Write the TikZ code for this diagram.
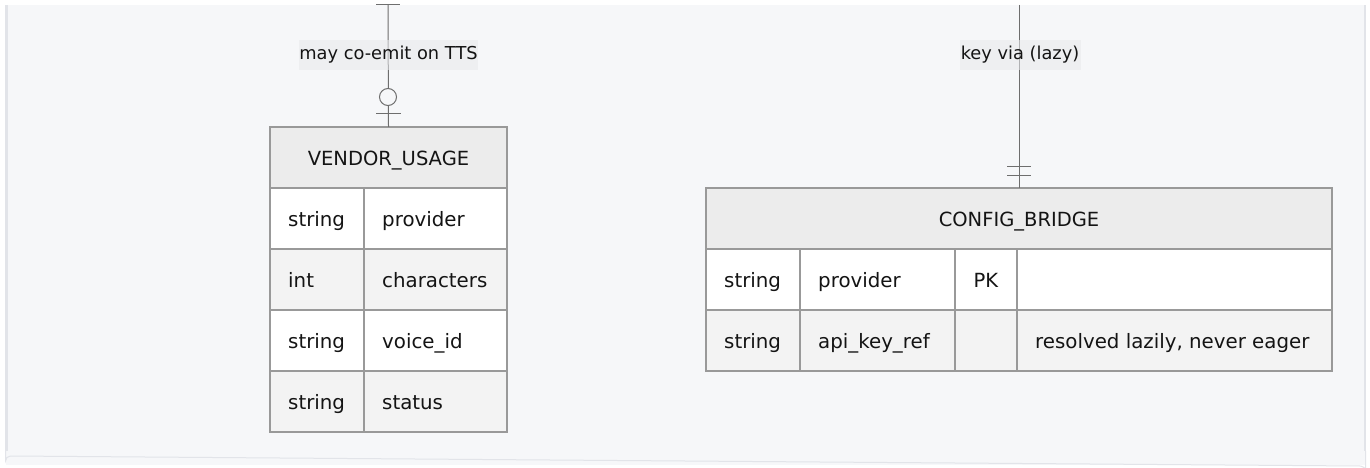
\documentclass[tikz,border=0pt]{standalone}
\usepackage{fontspec}
\setmainfont{DejaVu Sans}
\definecolor{panelbg}{RGB}{246,247,249}
\definecolor{panelln}{RGB}{226,228,233}
\definecolor{boxln}{RGB}{153,153,153}
\definecolor{hdrfill}{RGB}{236,236,236}
\definecolor{oddfill}{RGB}{255,255,255}
\definecolor{evenfill}{RGB}{243,243,243}
\definecolor{edgeln}{RGB}{110,110,110}
\definecolor{lblfill}{RGB}{232,233,236}
\definecolor{txt}{RGB}{20,20,20}
\tikzset{
  cellbox/.style={draw=boxln, line width=1.5pt},
  celltxt/.style={anchor=base west, inner sep=0pt, text=txt, font=\fontsize{19.8}{22}\selectfont},
  hdrtxt/.style={anchor=base, inner sep=0pt, text=txt, font=\fontsize{19.5}{22}\selectfont},
  edge/.style={draw=edgeln, line width=1pt},
  lbl/.style={fill=lblfill, fill opacity=0.55, text opacity=1, text=txt, inner sep=0pt, minimum height=30pt, font=\fontsize{17.8}{20}\selectfont},
}
\begin{document}
\begin{tikzpicture}[x=1pt,y=-1pt]
\useasboundingbox (0,0) rectangle (1370,468);
\fill[white] (0,0) rectangle (1370,468);
% panel
\fill[panelbg] (5.5,5) rectangle (1365,465);
\fill[panelln] (5,5) rectangle (8,451);
\fill[panelln] (1364,5) rectangle (1366,451);
\draw[panelln, line width=1pt] (5.5,451) -- (5.5,461) arc[start angle=180,end angle=270,radius=5] -- (1360.5,466) arc[start angle=270,end angle=360,radius=5] -- (1365.5,451);

% ---------- VENDOR_USAGE ----------
\fill[hdrfill] (270,127) rectangle (507,188);
\fill[oddfill] (270,188) rectangle (507,249);
\fill[evenfill] (270,249) rectangle (507,310);
\fill[oddfill] (270,310) rectangle (507,371);
\fill[evenfill] (270,371) rectangle (507,432);
\draw[cellbox] (270,127) rectangle (507,432);
\draw[cellbox] (270,188) -- (507,188) (270,249) -- (507,249) (270,310) -- (507,310) (270,371) -- (507,371) (364,188) -- (364,432);
\node[hdrtxt] (vuh) at (388.5,165) {VENDOR\_USAGE};
\node (vu) [inner sep=0pt, minimum width=237pt, minimum height=305pt] at (388.5,279.5) {};
\node[celltxt] (vu1t) at (288,226) {string};
\node[celltxt] (vu1n) at (382,226) {provider};
\node[celltxt] (vu2t) at (288,287) {int};
\node[celltxt] (vu2n) at (382,287) {characters};
\node[celltxt] (vu3t) at (288,348) {string};
\node[celltxt] (vu3n) at (382,348) {voice\_id};
\node[celltxt] (vu4t) at (288,409) {string};
\node[celltxt] (vu4n) at (382,409) {status};

% ---------- CONFIG_BRIDGE ----------
\fill[hdrfill] (706,188) rectangle (1332,249);
\fill[oddfill] (706,249) rectangle (1332,310);
\fill[evenfill] (706,310) rectangle (1332,371);
\draw[cellbox] (706,188) rectangle (1332,371);
\draw[cellbox] (706,249) -- (1332,249) (706,310) -- (1332,310) (800,249) -- (800,371) (955,249) -- (955,371) (1017,249) -- (1017,371);
\node[hdrtxt] (cbh) at (1019,226) {CONFIG\_BRIDGE};
\node (cb) [inner sep=0pt, minimum width=626pt, minimum height=183pt] at (1019,279.5) {};
\node[celltxt] (cb1t) at (724,287) {string};
\node[celltxt] (cb1n) at (818,287) {provider};
\node[hdrtxt] (cb1k) at (986,287) {PK};
\node[celltxt] (cb2t) at (724,348) {string};
\node[celltxt] (cb2n) at (818,348) {api\_key\_ref};
\node[celltxt] (cb2c) at (1035,348) {resolved lazily, never eager};

% ---------- connectors ----------
\coordinate (vtop) at (388,5);
\coordinate (ctop) at (1019,5);
\draw[edge] (vtop) -- (vu.north);
\draw[edge] (376,5) -- (400,5);
\draw[edge, fill=panelbg] (388,97) circle[radius=8.5];
\draw[edge] (376,114) -- (401,114);
\draw[edge] (ctop) -- (cb.north);
\draw[edge] (1007,166) -- (1031,166) (1007,175) -- (1031,175);
\node[lbl, minimum width=179pt] (l1) at (388.5,55) {may co-emit on TTS};
\node[lbl, minimum width=121pt] (l2) at (1020,55) {key via (lazy)};
\end{tikzpicture}
\end{document}
